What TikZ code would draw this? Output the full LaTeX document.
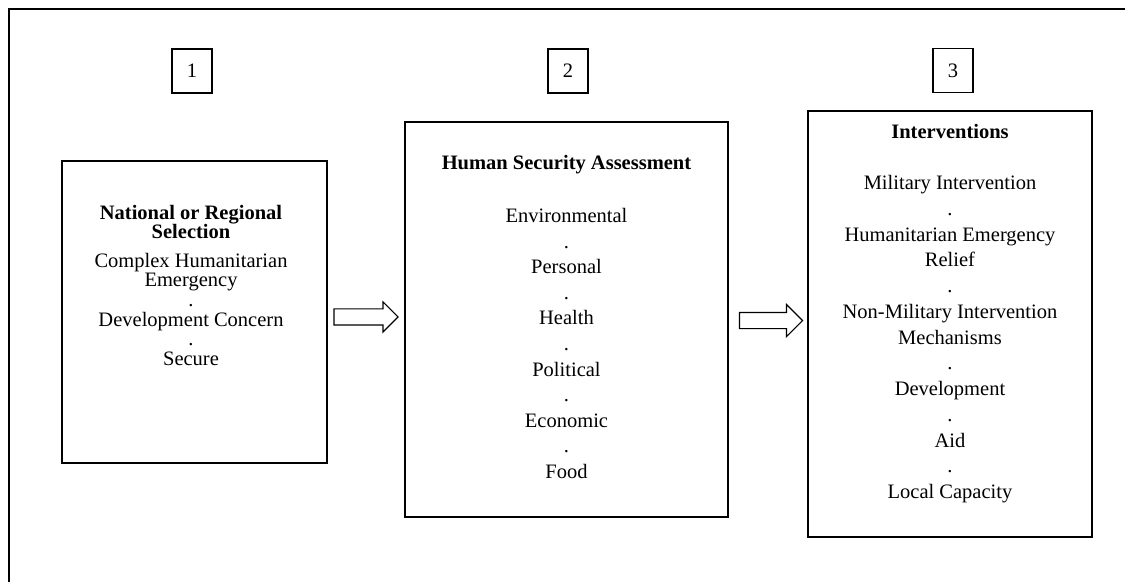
\documentclass[tikz,border=0pt]{standalone}
\usepackage{fontspec}
\setmainfont{Liberation Serif}
\usetikzlibrary{
    positioning,
    calc,
    shapes.arrows
}
\tikzset{
    % Boxes
    panel/.style={draw,line width=1.8pt,inner sep=0pt},
    panel text/.style={anchor=north,align=center,inner sep=0pt},
    numbox/.style={draw,line width=1.6pt,inner sep=0pt,minimum width=40pt,minimum height=44pt},
    %
    % Block arrows between the boxes
    block arrow/.style={single arrow,draw,line width=1.1pt,inner xsep=0pt,inner ysep=7.5pt,
        single arrow head extend=#1,minimum height=64pt},
    block arrow/.default=7pt,
    %
    % Outer frame
    frame/.style={line width=2pt}
}
\tikzstyle{every node}=[font=\fontsize{20.5}{25.6}\selectfont]

\begin{document}
\begin{tikzpicture}[x=1pt,y=-1pt]
        \useasboundingbox (0,0) rectangle (1125,582);
        \draw[frame] (9,582) |- (1125,9);
        % the three stages
        \node[panel,minimum width=265pt,minimum height=302pt] (select) at (194.5,312) {};
        \node[panel,minimum width=323pt,minimum height=395pt] (assess) at (566.5,319.5) {};
        \node[panel,minimum width=284pt,minimum height=426pt] (interv) at (950,324) {};
        \node[numbox] (n1) at (192,71) {1};
        \node[numbox] (n2) at (568,71) {2};
        \node[numbox] (n3) at (953,70.5) {3};
        % contents
        \node[panel text,font=\fontsize{20.5}{19.6}\selectfont,below=44.5pt of select.north,xshift=-3.5pt] (select text)
            {\textbf{National or Regional}\\\textbf{Selection}\\[9pt]
             Complex Humanitarian\\Emergency\\.\\Development Concern\\.\\Secure};
        \node[panel text,below=34pt of assess.north] (assess text)
            {\textbf{Human Security Assessment}\\[27.4pt]
             Environmental\\.\\Personal\\.\\Health\\.\\Political\\.\\Economic\\.\\Food};
        \node[panel text,font=\fontsize{20.5}{25.75}\selectfont,below=14pt of interv.north] (interv text)
            {\textbf{Interventions}\\[25.3pt]
             Military Intervention\\.\\Humanitarian Emergency\\Relief\\.\\
             Non-Military Intervention\\Mechanisms\\.\\Development\\.\\Aid\\.\\Local Capacity};
        % arrows
        \node[block arrow] (a1) at ($(select.east)!.5!(assess.west)+(-4,1.2)$) {};
        \node[block arrow=8pt,minimum height=63pt] (a2) at ($(assess.east)!.5!(interv.west)+(-1,-1.2)$) {};
    \end{tikzpicture}
\end{document}
